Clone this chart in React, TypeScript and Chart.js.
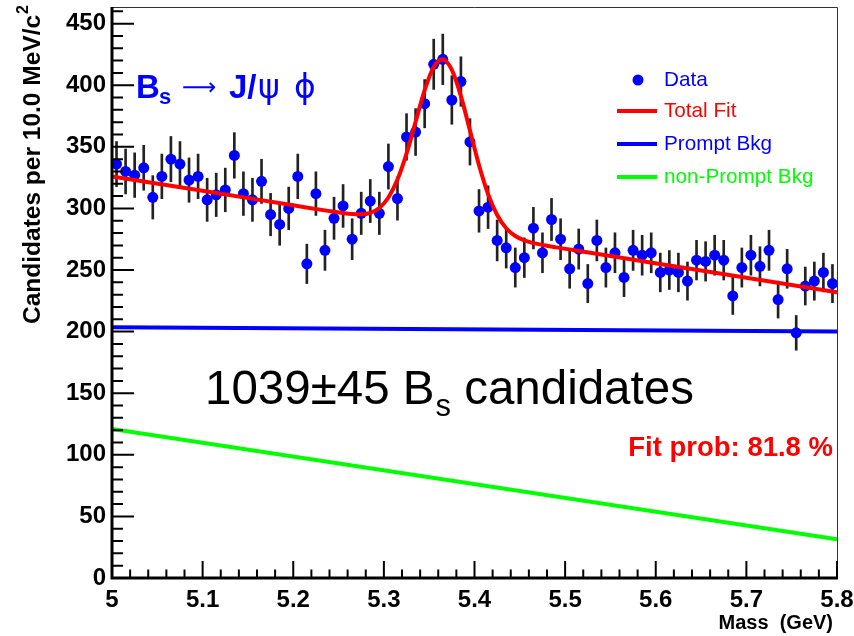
import React, { useEffect, useRef } from 'react';
import { Chart, registerables } from 'chart.js';

Chart.register(...registerables);

// ---------- data ----------
const massCenters = [
  5.005, 5.015, 5.025, 5.035, 5.045, 5.055, 5.065, 5.075, 5.085, 5.095,
  5.105, 5.115, 5.125, 5.135, 5.145, 5.155, 5.165, 5.175, 5.185, 5.195,
  5.205, 5.215, 5.225, 5.235, 5.245, 5.255, 5.265, 5.275, 5.285, 5.295,
  5.305, 5.315, 5.325, 5.335, 5.345, 5.355, 5.365, 5.375, 5.385, 5.395,
  5.405, 5.415, 5.425, 5.435, 5.445, 5.455, 5.465, 5.475, 5.485, 5.495,
  5.505, 5.515, 5.525, 5.535, 5.545, 5.555, 5.565, 5.575, 5.585, 5.595,
  5.605, 5.615, 5.625, 5.635, 5.645, 5.655, 5.665, 5.675, 5.685, 5.695,
  5.705, 5.715, 5.725, 5.735, 5.745, 5.755, 5.765, 5.775, 5.785, 5.795,
];

const candidates = [
  336, 330, 327, 333, 309, 326, 340, 336, 323, 326,
  307, 311, 315, 343, 312, 307, 322, 295, 287, 300,
  326, 255, 312, 266, 292, 302, 275, 296, 306, 296,
  334, 308, 358, 362, 385, 417, 421, 388, 403, 354,
  298, 301, 274, 268, 252, 260, 284, 264, 291, 275,
  251, 267, 239, 274, 252, 264, 244, 266, 262, 264,
  248, 250, 248, 241, 258, 257, 262, 258, 229, 252,
  262, 253, 266, 226, 251, 199, 237, 241, 248, 239,
];

const candidateErrors = [
  18.3, 18.2, 18.1, 18.2, 17.6, 18.1, 18.4, 18.3, 18.0, 18.1,
  17.5, 17.6, 17.7, 18.5, 17.7, 17.5, 17.9, 17.2, 16.9, 17.3,
  18.1, 16.0, 17.7, 16.3, 17.1, 17.4, 16.6, 17.2, 17.5, 17.2,
  18.3, 17.5, 18.9, 19.0, 19.6, 20.4, 20.5, 19.7, 20.1, 18.8,
  17.3, 17.3, 16.6, 16.4, 15.9, 16.1, 16.9, 16.2, 17.1, 16.6,
  15.8, 16.3, 15.5, 16.6, 15.9, 16.2, 15.6, 16.3, 16.2, 16.2,
  15.7, 15.8, 15.7, 15.5, 16.1, 16.0, 16.2, 16.1, 15.1, 15.9,
  16.2, 15.9, 16.3, 15.0, 15.8, 14.1, 15.4, 15.5, 15.7, 15.5,
];

const totalFitMass = [
  5.0, 5.1, 5.2, 5.24, 5.255, 5.265, 5.275, 5.285, 5.295, 5.305,
  5.315, 5.325, 5.335, 5.345, 5.355, 5.365, 5.375, 5.385, 5.395, 5.405,
  5.415, 5.425, 5.435, 5.445, 5.455, 5.465, 5.475, 5.49, 5.51, 5.55,
  5.65, 5.8,
];
const totalFitValue = [
  326, 314.3, 302.5, 297.8, 296.2, 295.4, 295.2, 296.4, 300.4, 308.9,
  323.4, 344.5, 370.3, 396.0, 414.8, 421.1, 412.4, 391.2, 363.2, 335.1,
  311.6, 294.7, 283.9, 277.6, 274.0, 271.8, 270.4, 268.4, 266.1, 261.4,
  249.6, 232.0,
];

const promptMass = [5.0, 5.8];
const promptValue = [203.5, 200.0];

const nonPromptMass = [5.0, 5.8];
const nonPromptValue = [121.0, 31.5];

const xTickValues = [5.0, 5.1, 5.2, 5.3, 5.4, 5.5, 5.6, 5.7, 5.8];
const yTickValues = [0, 50, 100, 150, 200, 250, 300, 350, 400, 450];

const legendLabels = ['Data', 'Total Fit', 'Prompt Bkg', 'non-Prompt Bkg'];

// ---------- style ----------
const FONT = "'Liberation Sans', Arial, Helvetica, sans-serif";
const BLUE = '#0000ff';
const RED = '#ff0000';
const GREEN = '#00ff00';

const X_MIN = 5.0;
const X_MAX = 5.8;
const Y_MIN = 0;
const Y_MAX = 463.5;

const rootStylePlugin = {
  id: 'rootStyle',
  afterDatasetsDraw(chart: any) {
    const { ctx, chartArea: ca, scales } = chart;
    const xs = scales.x;
    const ys = scales.y;
    ctx.save();

    // frame: top and right thin
    ctx.strokeStyle = '#333';
    ctx.lineWidth = 1;
    ctx.beginPath();
    ctx.moveTo(ca.left, ca.top + 0.5);
    ctx.lineTo(ca.right + 0.5, ca.top + 0.5);
    ctx.lineTo(ca.right + 0.5, ca.bottom);
    ctx.stroke();

    // axes lines
    ctx.strokeStyle = '#000';
    ctx.lineWidth = 3;
    ctx.beginPath();
    ctx.moveTo(ca.left, ca.top);
    ctx.lineTo(ca.left, ca.bottom);
    ctx.lineTo(ca.right + 1, ca.bottom);
    ctx.stroke();

    // ticks (inward)
    ctx.lineWidth = 2;
    ctx.beginPath();
    for (let k = 0; k * 10 <= Y_MAX; k++) {
      const py = ys.getPixelForValue(k * 10);
      const len = k % 5 === 0 ? 22 : 11;
      ctx.moveTo(ca.left, py);
      ctx.lineTo(ca.left + len, py);
    }
    for (let k = 0; k <= 40; k++) {
      const px = xs.getPixelForValue(X_MIN + k * 0.02);
      const len = k % 5 === 0 ? 17 : 8.5;
      ctx.moveTo(px, ca.bottom);
      ctx.lineTo(px, ca.bottom - len);
    }
    ctx.stroke();

    // y-axis title
    ctx.fillStyle = '#000';
    ctx.save();
    ctx.translate(40, 5);
    ctx.rotate(-Math.PI / 2);
    ctx.font = `bold 16px ${FONT}`;
    const w2 = ctx.measureText('2').width;
    ctx.textAlign = 'left';
    ctx.textBaseline = 'alphabetic';
    ctx.fillText('2', -w2, -12);
    ctx.font = `bold 24.5px ${FONT}`;
    ctx.textAlign = 'right';
    ctx.fillText('Candidates per 10.0 MeV/c', -w2 - 1, 0);
    ctx.restore();

    // x-axis title
    ctx.font = `bold 20px ${FONT}`;
    ctx.textAlign = 'right';
    ctx.textBaseline = 'alphabetic';
    ctx.fillText('Mass  (GeV)', 833, 629);

    // Bs -> J/psi phi
    ctx.fillStyle = BLUE;
    ctx.textAlign = 'left';
    ctx.font = `bold 33px ${FONT}`;
    ctx.fillText('B', 136, 98);
    ctx.font = `bold 22px ${FONT}`;
    ctx.fillText('s', 159, 104);
    ctx.font = `24px 'DejaVu Sans', ${FONT}`;
    ctx.fillText('\u27F6', 182, 95);
    ctx.font = `bold 33px ${FONT}`;
    ctx.fillText('J/', 229, 98);
    ctx.font = `33px 'DejaVu Sans', ${FONT}`;
    ctx.fillText('\u03C8', 258, 98);
    ctx.fillText('\u03D5', 294, 98);

    // yield text
    ctx.fillStyle = '#000';
    ctx.font = `47.5px ${FONT}`;
    let tx = 205;
    ctx.fillText('1039\u00B145 B', tx, 404);
    tx += ctx.measureText('1039\u00B145 B').width;
    ctx.font = `31px ${FONT}`;
    ctx.fillText('s', tx + 1, 416);
    tx += ctx.measureText('s').width + 1;
    ctx.font = `47.5px ${FONT}`;
    ctx.fillText(' candidates', tx, 404);

    // fit prob
    ctx.fillStyle = RED;
    ctx.font = `bold 27.5px ${FONT}`;
    ctx.textAlign = 'right';
    ctx.fillText('Fit prob: 81.8 %', 833, 456);

    // legend
    ctx.textAlign = 'left';
    ctx.textBaseline = 'middle';
    ctx.font = `20.7px ${FONT}`;
    const legendColors = [BLUE, RED, BLUE, GREEN];
    const legendY = [80, 111, 144, 177];
    for (let i = 0; i < legendLabels.length; i++) {
      const yy = legendY[i];
      if (i === 0) {
        ctx.fillStyle = BLUE;
        ctx.beginPath();
        ctx.arc(638, yy, 5.5, 0, Math.PI * 2);
        ctx.fill();
      } else {
        ctx.strokeStyle = legendColors[i];
        ctx.lineWidth = 4;
        ctx.beginPath();
        ctx.moveTo(617, yy);
        ctx.lineTo(657, yy);
        ctx.stroke();
      }
      ctx.fillStyle = legendColors[i];
      ctx.fillText(legendLabels[i], 664, yy);
    }

    ctx.restore();
  },
};

const zeroPadding = (s: any) => {
  s.paddingTop = 0;
  s.paddingBottom = 0;
  s.paddingLeft = 0;
  s.paddingRight = 0;
};

export default function App() {
  const canvasRef = useRef<HTMLCanvasElement | null>(null);

  useEffect(() => {
    const canvas = canvasRef.current;
    if (!canvas) return;

    const points = massCenters.map((m, i) => ({ x: m, y: candidates[i] }));
    const errBars = massCenters.map((m, i) => ({
      x: m,
      y: [candidates[i] - candidateErrors[i], candidates[i] + candidateErrors[i]],
    }));
    const fitPts = totalFitMass.map((m, i) => ({ x: m, y: totalFitValue[i] }));
    const promptPts = promptMass.map((m, i) => ({ x: m, y: promptValue[i] }));
    const nonPromptPts = nonPromptMass.map((m, i) => ({ x: m, y: nonPromptValue[i] }));

    const tickFont = { family: FONT, size: 24, weight: 'bold' as const };

    const chart = new Chart(canvas, {
      type: 'scatter',
      data: {
        datasets: [
          {
            type: 'line',
            label: 'Total Fit',
            data: fitPts,
            borderColor: RED,
            borderWidth: 4,
            pointRadius: 0,
            cubicInterpolationMode: 'monotone',
            fill: false,
          } as any,
          {
            type: 'line',
            label: 'Prompt Bkg',
            data: promptPts,
            borderColor: BLUE,
            borderWidth: 4,
            pointRadius: 0,
            fill: false,
          } as any,
          {
            type: 'line',
            label: 'non-Prompt Bkg',
            data: nonPromptPts,
            borderColor: GREEN,
            borderWidth: 4,
            pointRadius: 0,
            fill: false,
          } as any,
          {
            type: 'scatter',
            label: 'Data',
            data: points,
            pointRadius: 5.5,
            pointBackgroundColor: BLUE,
            pointBorderWidth: 0,
            showLine: false,
          } as any,
          {
            type: 'bar',
            label: 'errors',
            data: errBars,
            backgroundColor: '#222',
            barThickness: 2,
            grouped: false,
          } as any,
        ],
      },
      options: {
        animation: false,
        responsive: false,
        devicePixelRatio: 1,
        layout: { padding: { top: 7, right: 17, left: 0, bottom: 0 } },
        plugins: { legend: { display: false }, tooltip: { enabled: false } },
        scales: {
          x: {
            type: 'linear',
            position: 'bottom',
            min: X_MIN,
            max: X_MAX,
            offset: false,
            grid: { display: false, drawTicks: false },
            border: { display: false },
            afterBuildTicks: (s: any) => {
              s.ticks = xTickValues.map((v) => ({ value: v }));
            },
            ticks: {
              autoSkip: false,
              maxRotation: 0,
              padding: 8,
              color: '#000',
              font: tickFont,
              callback: (v: any) => String(Math.round(Number(v) * 10) / 10),
            },
            afterFit: (s: any) => {
              s.height = 58;
              zeroPadding(s);
            },
          },
          y: {
            type: 'linear',
            min: Y_MIN,
            max: Y_MAX,
            grid: { display: false, drawTicks: false },
            border: { display: false },
            afterBuildTicks: (s: any) => {
              s.ticks = yTickValues.map((v) => ({ value: v }));
            },
            ticks: {
              padding: 6,
              color: '#000',
              font: tickFont,
              callback: (v: any) => String(v),
            },
            afterFit: (s: any) => {
              s.width = 112;
              zeroPadding(s);
            },
          },
        },
      } as any,
      plugins: [rootStylePlugin],
    });

    return () => chart.destroy();
  }, []);

  return (
    <div style={{ position: 'absolute', left: 0, top: 0, width: 854, height: 636, background: '#fff' }}>
      <canvas ref={canvasRef} width={854} height={636} style={{ width: 854, height: 636 }} />
    </div>
  );
}
